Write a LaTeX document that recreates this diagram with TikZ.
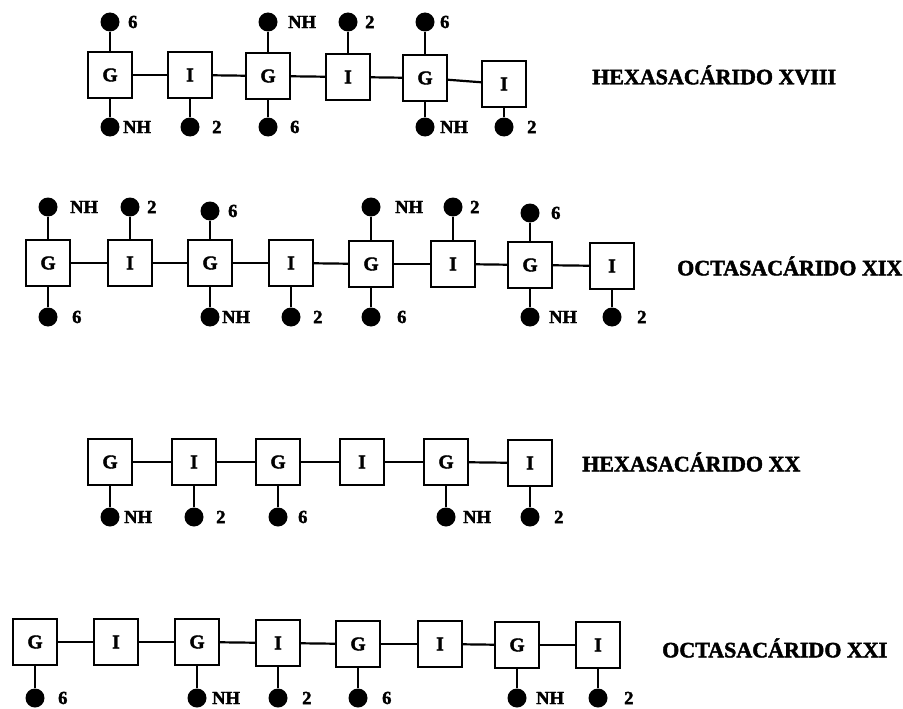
\documentclass[tikz,border=0pt]{standalone}
\usepackage{fontspec}
\setmainfont{Liberation Serif}[BoldFont={Liberation Serif Bold}, BoldFeatures={FakeBold=2}]
\begin{document}
\begin{tikzpicture}[x=1pt,y=-1pt,
  sbox/.style={draw, line width=2.2pt, minimum width=44pt, minimum height=46pt, inner sep=0pt, font=\fontsize{19.5}{19.5}\selectfont\bfseries},
  dot/.style={circle, fill=black, minimum size=19pt, inner sep=0pt},
  lab/.style={anchor=west, inner sep=0pt, font=\fontsize{18.5}{18.5}\selectfont\bfseries},
  ttl/.style={anchor=west, inner sep=0pt, font=\fontsize{22}{22}\selectfont\bfseries},
  link/.style={line width=2.2pt}]
\useasboundingbox (0,0) rectangle (903,709);

% ---------- Row 1: HEXASACARIDO XVIII ----------
\foreach \n/\x/\y/\t in {a1/110/75/G, a2/190/75/I, a3/268/76/G, a4/348/77/I, a5/425/78/G, a6/504/84/I}
  \node[sbox] (\n) at (\x,\y) {\t};
\foreach \p/\q in {a1/a2, a2/a3, a3/a4, a4/a5, a5/a6}
  \draw[link] (\p) -- (\q);
\foreach \n/\b/\x/\y/\l/\lx in {at1/a1/110/22/6/128, at3/a3/268/22/NH/288, at4/a4/348/22/2/365, at5/a5/425/22/6/440,
  ab1/a1/110/127/NH/123, ab2/a2/190/127/2/212, ab3/a3/268/127/6/290, ab5/a5/425/127/NH/440, ab6/a6/504/127/2/527}
  {\node[dot] (\n) at (\x,\y) {}; \draw[link] (\n) -- (\b); \node[lab] (l\n) at (\lx,\y) {\l};}
\node[ttl] (t1) at (592,75) {HEXASACÁRIDO XVIII};

% ---------- Row 2: OCTASACARIDO XIX ----------
\foreach \n/\x/\y/\t in {b1/48/263/G, b2/130/263/I, b3/210/263/G, b4/291/263/I, b5/371/264/G, b6/453/264/I, b7/530/265/G, b8/612/266/I}
  \node[sbox] (\n) at (\x,\y) {\t};
\foreach \p/\q in {b1/b2, b2/b3, b3/b4, b4/b5, b5/b6, b6/b7, b7/b8}
  \draw[link] (\p) -- (\q);
\foreach \n/\b/\x/\y/\l/\lx in {bt1/b1/48/207/NH/70, bt2/b2/130/207/2/147, bt3/b3/210/211/6/228, bt5/b5/371/207/NH/395, bt6/b6/453/207/2/470, bt7/b7/530/213/6/551,
  bb1/b1/48/317/6/72, bb3/b3/210/317/NH/222, bb4/b4/291/317/2/313, bb5/b5/371/317/6/397, bb7/b7/530/317/NH/549, bb8/b8/612/317/2/637}
  {\node[dot] (\n) at (\x,\y) {}; \draw[link] (\n) -- (\b); \node[lab] (l\n) at (\lx,\y) {\l};}
\node[ttl] (t2) at (677,266) {OCTASACÁRIDO XIX};

% ---------- Row 3: HEXASACARIDO XX ----------
\foreach \n/\x/\y/\t in {c1/110/462/G, c2/194/462/I, c3/278/462/G, c4/362/462/I, c5/446/462/G, c6/530/463/I}
  \node[sbox] (\n) at (\x,\y) {\t};
\foreach \p/\q in {c1/c2, c2/c3, c3/c4, c4/c5, c5/c6}
  \draw[link] (\p) -- (\q);
\foreach \n/\b/\x/\y/\l/\lx in {cb1/c1/110/517/NH/124, cb2/c2/194/517/2/216, cb3/c3/278/517/6/298, cb5/c5/446/517/NH/463, cb6/c6/530/517/2/554}
  {\node[dot] (\n) at (\x,\y) {}; \draw[link] (\n) -- (\b); \node[lab] (l\n) at (\lx,\y) {\l};}
\node[ttl] (t3) at (582,462) {HEXASACÁRIDO XX};

% ---------- Row 4: OCTASACARIDO XXI ----------
\foreach \n/\x/\y/\t in {d1/35/642/G, d2/116/642/I, d3/197/642/G, d4/278/643/I, d5/358/644/G, d6/440/644/I, d7/517/645/G, d8/598/645/I}
  \node[sbox] (\n) at (\x,\y) {\t};
\foreach \p/\q in {d1/d2, d2/d3, d3/d4, d4/d5, d5/d6, d6/d7, d7/d8}
  \draw[link] (\p) -- (\q);
\foreach \n/\b/\x/\y/\l/\lx in {db1/d1/35/698/6/58, db3/d3/197/698/NH/212, db4/d4/278/698/2/302, db5/d5/358/698/6/382, db7/d7/517/698/NH/536, db8/d8/598/698/2/624}
  {\node[dot] (\n) at (\x,\y) {}; \draw[link] (\n) -- (\b); \node[lab] (l\n) at (\lx,\y) {\l};}
\node[ttl] (t4) at (662,648) {OCTASACÁRIDO XXI};
\end{tikzpicture}
\end{document}
